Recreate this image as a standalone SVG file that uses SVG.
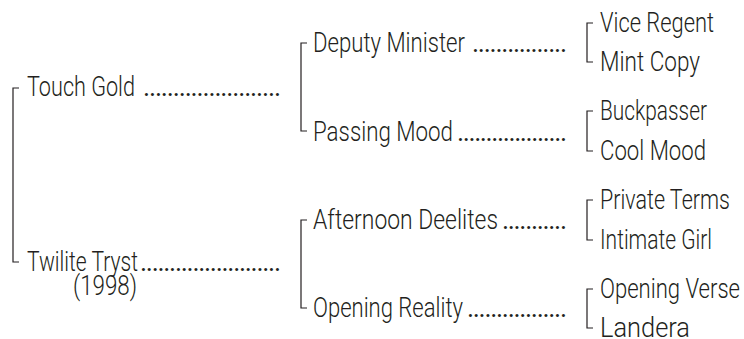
<svg xmlns="http://www.w3.org/2000/svg" width="744" height="339" viewBox="0 0 744 339">
<style>
text{font-family:Roboto,"Liberation Sans",Arial,sans-serif;font-weight:300;font-size:27px;fill:#231f20}
text.d{font-weight:400}
.br{fill:none;stroke:#231f20;stroke-width:1.2}
</style>
<rect width="744" height="339" fill="#fff"/>
<g id="connectors">
<path class="br" d="M19 88H13V262H19"/>
<path class="br" d="M307 43H301V131H307"/>
<path class="br" d="M307 220H301V308H307"/>
<path class="br" d="M593 23H587V62H593"/>
<path class="br" d="M593 111H587V151H593"/>
<path class="br" d="M593 200H587V240H593"/>
<path class="br" d="M593 289H587V328H593"/>
</g>
<g id="touch-gold"><text x="27" y="96" textLength="108" lengthAdjust="spacingAndGlyphs">Touch Gold</text><text class="d" x="143" y="96" textLength="138" lengthAdjust="spacing">.......................</text></g>
<g id="twilite-tryst"><text x="27" y="271" textLength="111" lengthAdjust="spacingAndGlyphs">Twilite Tryst</text><text class="d" x="140" y="271" textLength="141" lengthAdjust="spacing">........................</text><text x="73" y="295" textLength="64" lengthAdjust="spacingAndGlyphs">(1998)</text></g>
<g id="deputy-minister"><text x="313" y="52" textLength="152" lengthAdjust="spacingAndGlyphs">Deputy Minister</text><text class="d" x="472" y="52" textLength="95" lengthAdjust="spacing">................</text></g>
<g id="passing-mood"><text x="313" y="141" textLength="140" lengthAdjust="spacingAndGlyphs">Passing Mood</text><text class="d" x="457" y="141" textLength="110" lengthAdjust="spacing">...................</text></g>
<g id="afternoon-deelites"><text x="313" y="229" textLength="185" lengthAdjust="spacingAndGlyphs">Afternoon Deelites</text><text class="d" x="502" y="229" textLength="65" lengthAdjust="spacing">...........</text></g>
<g id="opening-reality"><text x="313" y="317" textLength="150" lengthAdjust="spacingAndGlyphs">Opening Reality</text><text class="d" x="467" y="317" textLength="100" lengthAdjust="spacing">.................</text></g>
<g id="vice-regent"><text x="600" y="32" textLength="114" lengthAdjust="spacingAndGlyphs">Vice Regent</text></g>
<g id="mint-copy"><text x="600" y="71" textLength="100" lengthAdjust="spacingAndGlyphs">Mint Copy</text></g>
<g id="buckpasser"><text x="600" y="120" textLength="107" lengthAdjust="spacingAndGlyphs">Buckpasser</text></g>
<g id="cool-mood"><text x="600" y="160" textLength="106" lengthAdjust="spacingAndGlyphs">Cool Mood</text></g>
<g id="private-terms"><text x="600" y="209" textLength="130" lengthAdjust="spacingAndGlyphs">Private Terms</text></g>
<g id="intimate-girl"><text x="600" y="249" textLength="112" lengthAdjust="spacingAndGlyphs">Intimate Girl</text></g>
<g id="opening-verse"><text x="600" y="298" textLength="140" lengthAdjust="spacingAndGlyphs">Opening Verse</text></g>
<g id="landera"><text x="600" y="337" textLength="90" lengthAdjust="spacingAndGlyphs">Landera</text></g>
</svg>
